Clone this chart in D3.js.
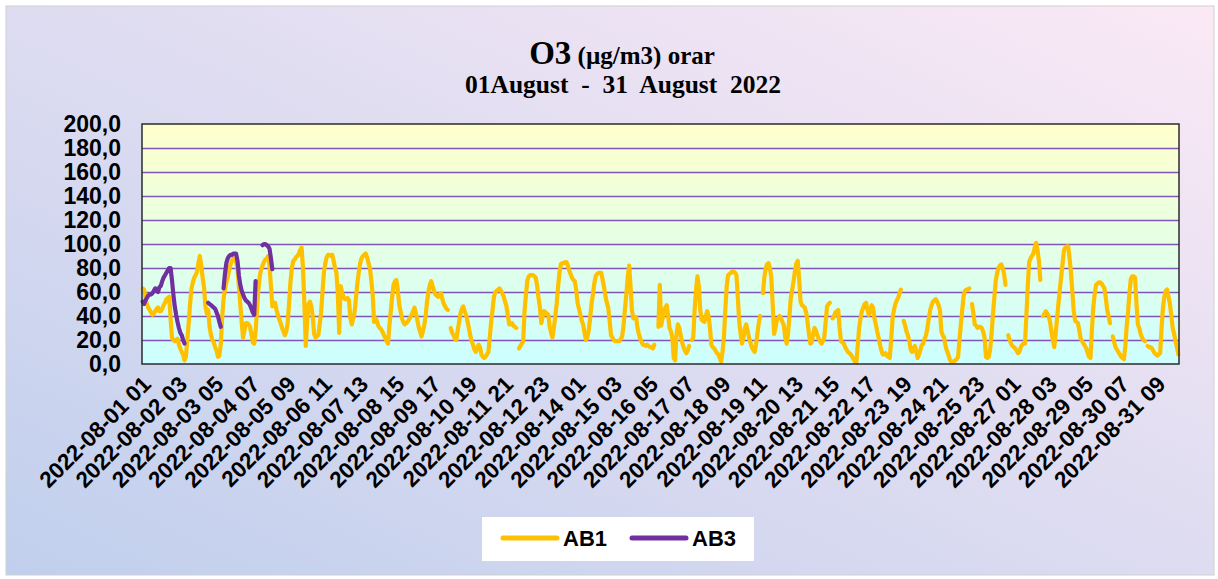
<!DOCTYPE html>
<html>
<head>
<meta charset="utf-8">
<script src="https://cdn.jsdelivr.net/npm/d3@7"></script>
<style>
  html, body { margin: 0; padding: 0; background: #ffffff; }
  svg { display: block; }
</style>
</head>
<body>
<div id="chart"></div>
<script>
// hourly O3 (µg/m3), 2022-08-01 01 .. 2022-09-01 00, one row per day
const ab1 = [
  63,62,55,50,47,45,43,41,42,44,46,47,44,44,46,49,51,54,55,56,38,22,20,19,
  20,21,16,13,10,8,3,6,20,34,50,63,68,72,74,77,84,90,82,72,64,48,42,45,
  31,24,20,18,14,11,6,7,16,38,54,62,68,72,78,83,86,88,88,85,80,65,50,35,
  22,28,34,34,33,31,25,18,17,27,45,62,73,79,82,85,87,88,90,82,65,48,49,51,
  45,41,37,34,30,27,24,27,34,50,68,80,86,87,89,90,92,95,97,80,50,15,35,50,
  52,48,40,25,22,23,24,33,43,60,76,84,89,91,91,90,91,86,80,76,58,26,65,60,
  56,54,54,55,53,38,33,38,43,55,67,76,84,88,90,91,92,89,84,80,70,58,35,38,
  36,32,30,29,27,24,22,19,17,32,44,56,66,69,70,62,50,44,38,35,33,34,35,37,
  39,41,44,47,42,37,31,27,23,27,32,40,52,60,66,69,65,61,58,57,56,58,59,54,
  50,48,46,45,null,30,26,24,21,20,28,35,42,46,48,44,41,36,30,24,19,16,12,10,
  13,16,14,8,6,5,6,8,10,22,35,45,56,60,61,62,63,61,59,56,52,48,40,33,
  33,34,32,31,30,null,13,15,17,19,45,58,70,73,74,74,74,73,72,65,55,47,34,40,
  44,43,42,41,31,26,22,30,40,50,64,76,83,84,84,85,85,82,78,75,72,70,69,62,
  51,46,41,36,33,26,20,22,28,38,50,58,67,73,75,76,76,76,70,64,57,51,47,36,
  24,22,20,19,19,19,19,21,23,32,46,58,72,82,65,45,38,39,39,30,25,21,18,16,
  16,15,16,15,14,14,13,16,null,null,31,66,32,38,44,47,49,40,30,27,22,5,3,25,
  33,30,24,18,14,11,9,11,15,null,20,22,45,62,73,65,45,37,36,35,40,44,40,30,
  16,14,13,11,9,8,5,2,10,22,45,65,74,75,76,77,77,76,74,55,35,25,17,22,
  30,33,28,22,18,14,12,10,16,25,34,40,null,59,72,80,83,84,80,72,50,25,30,37,
  38,40,38,35,32,22,17,25,40,55,62,69,78,84,86,70,52,49,48,47,43,35,25,17,
  18,25,30,28,24,21,19,17,19,22,35,48,50,51,null,38,40,43,44,45,30,19,18,17,
  14,12,10,9,8,6,4,2,1,15,30,38,44,47,50,51,45,41,44,49,47,38,33,27,
  22,16,11,8,8,9,7,6,5,20,38,45,50,53,55,59,62,null,36,32,27,24,19,12,
  10,13,15,10,5,8,12,16,17,21,24,30,38,45,49,52,53,54,52,49,45,27,24,22,
  15,11,8,4,2,2,2,3,4,6,20,33,45,57,61,62,62,63,null,50,42,33,32,30,
  31,31,30,27,22,6,5,6,12,25,41,55,69,76,80,82,83,80,75,66,null,24,20,17,
  15,14,13,11,9,10,14,16,17,17,40,65,85,88,90,92,97,101,95,86,70,null,40,42,
  44,42,40,35,27,20,14,25,38,50,62,73,84,95,97,98,98,88,76,60,44,36,35,34,
  28,21,19,17,15,13,9,6,5,28,47,58,66,67,68,68,67,65,63,55,45,40,34,null,
  23,18,14,12,10,8,6,5,4,15,32,44,60,71,73,73,72,50,33,30,25,22,20,19,
  null,15,14,14,13,11,9,8,7,8,9,30,47,56,61,62,56,50,40,30,25,19,14,8
];
// AB3 only reports during the first days
const ab3 = [
  52,50,53,55,57,58,58,59,61,63,61,60,64,65,69,72,74,76,78,80,80,70,58,48,
  41,35,30,26,24,20,17,null,null,null,null,null,null,null,null,null,null,null,null,null,null,null,null,51,
  50,49,48,47,46,43,40,35,31,null,63,75,84,88,90,91,91,92,92,92,86,74,66,61,
  58,55,53,52,51,49,46,43,41,69,null,null,null,null,99,100,100,99,98,96,88,79
];
const seriesNames = ["AB1", "AB3"];
const seriesColors = ["#FFC000", "#7030A0"];
const yTicks = [0, 20, 40, 60, 80, 100, 120, 140, 160, 180, 200];
const startHour = new Date(2022, 7, 1, 1);
const hourCount = 744;
const labelStep = 26;

const fmtCat = d3.timeFormat("%Y-%m-%d %H");
const categories = d3.range(hourCount).map(i => fmtCat(d3.timeHour.offset(startHour, i)));

const W = 1218, H = 579;
const plot = { left: 142, top: 124, right: 1179, bottom: 364 };

const svg = d3.select("#chart").append("svg")
  .attr("width", W)
  .attr("height", H);

const defs = svg.append("defs");
const bgGrad = defs.append("linearGradient").attr("id", "bgGrad")
  .attr("x1", "0%").attr("y1", "100%").attr("x2", "100%").attr("y2", "0%");
bgGrad.append("stop").attr("offset", "0%").attr("stop-color", "#c0cfed");
bgGrad.append("stop").attr("offset", "100%").attr("stop-color", "#fbe9f5");

const plotGrad = defs.append("linearGradient").attr("id", "plotGrad")
  .attr("x1", "0%").attr("y1", "0%").attr("x2", "0%").attr("y2", "100%");
plotGrad.append("stop").attr("offset", "0%").attr("stop-color", "#ffffcc");
plotGrad.append("stop").attr("offset", "100%").attr("stop-color", "#ccffff");

// chart background
svg.append("rect")
  .attr("x", 6).attr("y", 6).attr("width", W - 10).attr("height", H - 10)
  .attr("fill", "url(#bgGrad)")
  .attr("stroke", "#d0d0d0").attr("stroke-width", 1);

const x = d3.scaleBand().domain(categories).range([plot.left, plot.right]);
const y = d3.scaleLinear().domain([0, 200]).range([plot.bottom, plot.top]);
const cx = c => x(c) + x.bandwidth() / 2;

// plot area
svg.append("rect")
  .attr("x", plot.left).attr("y", plot.top)
  .attr("width", plot.right - plot.left).attr("height", plot.bottom - plot.top)
  .attr("fill", "url(#plotGrad)");

/* horizontal grid */
svg.append("g")
  .attr("transform", "translate(" + plot.left + ",0)")
  .call(d3.axisLeft(y).tickValues(yTicks.slice(1, -1)).tickSize(-(plot.right - plot.left)).tickFormat(""))
  .call(g => g.select(".domain").remove())
  .call(g => g.selectAll("line").attr("stroke", "#8055b8").attr("stroke-width", 1.3));

/* y axis labels */
const fmtY = d => d3.format(".1f")(d).replace(".", ",");
svg.append("g")
  .attr("transform", "translate(121,0)")
  .call(d3.axisLeft(y).tickValues(yTicks).tickSize(0).tickPadding(0).tickFormat(fmtY))
  .call(g => g.select(".domain").remove())
  .call(g => g.selectAll("text")
    .attr("font-family", "Liberation Sans, Arial, sans-serif")
    .attr("font-weight", "bold")
    .attr("font-size", 23)
    .attr("fill", "#000"));

/* x axis labels */
const xLabels = categories.filter((c, i) => i % labelStep === 0);
svg.append("g")
  .selectAll("text")
  .data(xLabels)
  .join("text")
  .attr("transform", d => "translate(" + (cx(d) + 4) + "," + (plot.bottom + 16) + ") rotate(-45)")
  .attr("text-anchor", "end")
  .attr("dy", "0.35em")
  .attr("font-family", "Liberation Sans, Arial, sans-serif")
  .attr("font-weight", "bold")
  .attr("font-size", 22.5)
  .attr("fill", "#000")
  .text(d => d);

// lines
const line = d3.line()
  .defined(d => d.v != null)
  .x(d => cx(d.c))
  .y(d => y(d.v));

[ab1, ab3].forEach((vals, k) => {
  const pts = categories.map((c, i) => ({ c: c, v: i < vals.length ? vals[i] : null }));
  svg.append("path")
    .datum(pts)
    .attr("fill", "none")
    .attr("stroke", seriesColors[k])
    .attr("stroke-width", 4.2)
    .attr("stroke-linejoin", "round")
    .attr("stroke-linecap", "round")
    .attr("d", line);
});

// plot border
svg.append("rect")
  .attr("x", plot.left).attr("y", plot.top)
  .attr("width", plot.right - plot.left).attr("height", plot.bottom - plot.top)
  .attr("fill", "none")
  .attr("stroke", "#2b2b2b").attr("stroke-width", 1.5);

// title
const title = svg.append("text")
  .attr("x", 622).attr("y", 64)
  .attr("text-anchor", "middle")
  .attr("font-family", "Liberation Serif, Times New Roman, serif")
  .attr("font-weight", "bold")
  .attr("fill", "#000");
title.append("tspan").attr("font-size", 33).text("O3");
title.append("tspan").attr("font-size", 25).text(" (µg/m3) orar");

svg.append("text")
  .attr("x", 623).attr("y", 93)
  .attr("text-anchor", "middle")
  .attr("font-family", "Liberation Serif, Times New Roman, serif")
  .attr("font-weight", "bold")
  .attr("font-size", 25.5)
  .style("white-space", "pre")
  .attr("fill", "#000")
  .text("01August  -  31  August  2022");

// legend
const legend = svg.append("g");
legend.append("rect")
  .attr("x", 482).attr("y", 517).attr("width", 272).attr("height", 44)
  .attr("fill", "#ffffff");
const legX = [503, 632];
seriesNames.forEach((name, k) => {
  legend.append("line")
    .attr("x1", legX[k]).attr("x2", legX[k] + 54)
    .attr("y1", 538).attr("y2", 538)
    .attr("stroke", seriesColors[k])
    .attr("stroke-width", 5)
    .attr("stroke-linecap", "round");
  legend.append("text")
    .attr("x", legX[k] + 60).attr("y", 546)
    .attr("font-family", "Liberation Sans, Arial, sans-serif")
    .attr("font-weight", "bold")
    .attr("font-size", 22)
    .attr("fill", "#000")
    .text(name);
});
</script>
</body>
</html>
